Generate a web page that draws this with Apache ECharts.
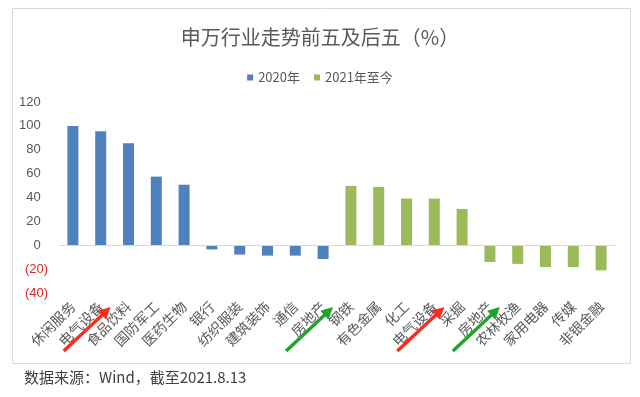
<!DOCTYPE html>
<html>
<head>
<meta charset="utf-8">
<script src="https://cdn.jsdelivr.net/npm/echarts@6/dist/echarts.min.js"></script>
<style>
  html, body { margin: 0; padding: 0; background: #fff; }
  #main { width: 640px; height: 397px; }
</style>
</head>
<body>
<div id="main"></div>
<script>
const categories = ['休闲服务', '电气设备', '食品饮料', '国防军工', '医药生物', '银行', '纺织服装', '建筑装饰', '通信', '房地产',
  '钢铁', '有色金属', '化工', '电气设备', '采掘', '房地产', '农林牧渔', '家用电器', '传媒', '非银金融'];
const values2020 = [100, 95.5, 85.5, 57.5, 50.7, -3.5, -7.8, -8.7, -8.7, -11.5];
const values2021 = [49.7, 48.9, 39.1, 39.1, 30.4, -14, -15.6, -18.2, -18.2, -21];
const yMin = -40, yMax = 120, yStep = 20;

// highlighted categories (arrows under the axis labels)
const arrowMarks = [
  { index: 1, color: '#ff2a1f' },
  { index: 9, color: '#1fa52a' },
  { index: 13, color: '#ff2a1f' },
  { index: 15, color: '#1fa52a' }
];

const blank = categories.slice(values2020.length).map(function () { return '-'; });
const series2020 = values2020.concat(blank);
const series2021 = categories.slice(0, values2020.length).map(function () { return '-'; }).concat(values2021);

const fontCJK = '"Noto Sans CJK SC", "Liberation Sans", sans-serif';

window.onload = function () {
  const chartDom = document.getElementById('main');
  const myChart = echarts.init(chartDom);

  const option = {
    animation: false,
    textStyle: { fontFamily: fontCJK },
    title: {
      text: '申万行业走势前五及后五（%）',
      left: 'center',
      top: 22,
      textStyle: { fontSize: 20, fontWeight: 'normal', color: '#595959', fontFamily: fontCJK }
    },
    legend: {
      top: 66,
      left: 'center',
      itemWidth: 6,
      itemHeight: 6,
      itemGap: 14,
      icon: 'rect',
      textStyle: { fontSize: 13, color: '#595959', fontFamily: fontCJK },
      data: ['2020年', '2021年至今']
    },
    grid: { left: 59, right: 25, top: 102, bottom: 104, containLabel: false },
    xAxis: {
      type: 'category',
      data: categories,
      axisLine: { show: false, onZero: false },
      axisTick: { show: false },
      axisLabel: {
        interval: 0,
        rotate: 45,
        margin: 11,
        fontSize: 14,
        color: '#595959',
        fontFamily: fontCJK
      }
    },
    yAxis: {
      type: 'value',
      min: yMin,
      max: yMax,
      interval: yStep,
      axisLine: { show: false },
      axisTick: { show: false },
      splitLine: { show: false },
      axisLabel: {
        margin: 11,
        fontSize: 13,
        fontFamily: '"Liberation Sans", Arial, sans-serif',
        color: function (v) { return v < 0 ? '#e0242b' : '#595959'; },
        formatter: function (v) { return v < 0 ? '(' + Math.abs(v) + ')' : v + '  '; }
      }
    },
    series: [
      {
        name: '2020年',
        type: 'bar',
        stack: 'all',
        barWidth: 11,
        itemStyle: { color: '#4f81bd' },
        data: series2020,
        markLine: {
          silent: true,
          symbol: 'none',
          label: { show: false },
          lineStyle: { color: '#d9d9d9', width: 1, type: 'solid' },
          data: [{ yAxis: 0 }]
        }
      },
      {
        name: '2021年至今',
        type: 'bar',
        stack: 'all',
        barWidth: 11,
        itemStyle: { color: '#9bbb59' },
        data: series2021
      }
    ]
  };
  myChart.setOption(option);

  function arrowPoints(x0, y0, x1, y1) {
    const dx = x1 - x0, dy = y1 - y0;
    const len = Math.sqrt(dx * dx + dy * dy);
    const ux = dx / len, uy = dy / len;
    const nx = -uy, ny = ux;
    const head = 12, hw = 6, sw = 1.7;
    const bx = x1 - ux * head, by = y1 - uy * head;
    return [
      [x0 + nx * sw, y0 + ny * sw],
      [bx + nx * sw, by + ny * sw],
      [bx + nx * hw, by + ny * hw],
      [x1, y1],
      [bx - nx * hw, by - ny * hw],
      [bx - nx * sw, by - ny * sw],
      [x0 - nx * sw, y0 - ny * sw]
    ];
  }

  const graphics = [
    {
      type: 'rect',
      shape: { x: 12.5, y: 8.5, width: 618, height: 355 },
      style: { fill: 'none', stroke: '#d9d9d9', lineWidth: 1 },
      z: 0
    },
    {
      type: 'text',
      left: 24,
      top: 370,
      style: { text: '数据来源：Wind，截至2021.8.13', fontSize: 15, fill: '#404040', fontFamily: fontCJK }
    }
  ];
  arrowMarks.forEach(function (a) {
    const cx = myChart.convertToPixel({ xAxisIndex: 0 }, a.index);
    graphics.push({
      type: 'polygon',
      shape: { points: arrowPoints(cx - 37, 351, cx + 10, 307) },
      style: { fill: a.color },
      z: 10
    });
  });
  myChart.setOption({ graphic: graphics });
};
</script>
</body>
</html>
